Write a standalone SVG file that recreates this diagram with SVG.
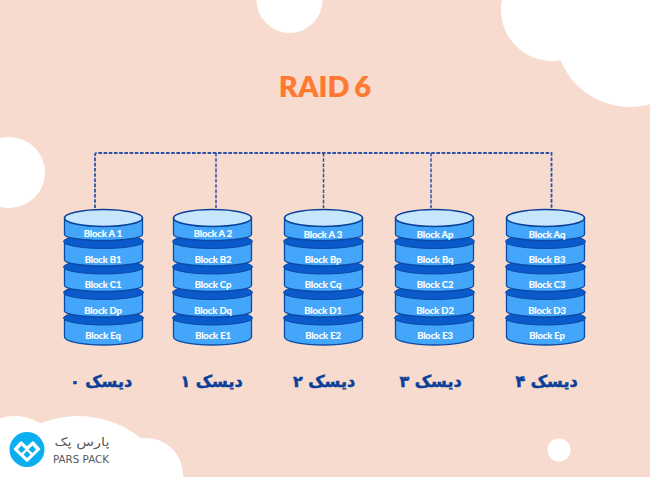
<svg xmlns="http://www.w3.org/2000/svg" width="650" height="477" viewBox="0 0 650 477">
<style>
.bg{fill:#f6dbce}.cloud{fill:#fff}
.conn{fill:none;stroke:#2a52a8;stroke-width:1.8;stroke-dasharray:3.6 1.6}
.seg{fill:#43a6fb;stroke:#0b4aa5;stroke-width:1.3}
.band{fill:#0a5acb;stroke:#0b4aa5;stroke-width:1}
.top{fill:#c6e7fb;stroke:#0b3f98;stroke-width:1.6}
.lbl{font:700 9.5px Lato,"Liberation Sans",sans-serif;fill:#fff;stroke:#fff;stroke-width:.15;text-anchor:middle;letter-spacing:-.15px}
.disk{font:700 16px "DejaVu Sans",sans-serif;fill:#0b3f98;stroke:#0b3f98;stroke-width:.5;text-anchor:middle}
.title{font:800 29px Lato,"Liberation Sans",sans-serif;fill:#ff7a30;text-anchor:middle;word-spacing:-2px}
</style>
<defs>
<path id="seg" d="M-39,0V16.500A39,6 0 0 0 39,16.500V0Z"/>
<path id="seg-last" d="M-39,0V17A39,8 0 0 0 39,17V0Z"/>
<g id="stack">
<use href="#seg-last" class="seg" y="102"/>
<ellipse class="band" cx="0" cy="100" rx="40" ry="7"/>
<use href="#seg" class="seg" y="76.500"/>
<ellipse class="band" cx="0" cy="74.500" rx="40" ry="7"/>
<use href="#seg" class="seg" y="51"/>
<ellipse class="band" cx="0" cy="49" rx="40" ry="7"/>
<use href="#seg" class="seg" y="25.500"/>
<ellipse class="band" cx="0" cy="23.500" rx="40" ry="7"/>
<use href="#seg" class="seg" y="0"/>
<ellipse class="top" cx="0" cy="0" rx="39" ry="8.500"/>
</g>
</defs>
<rect class="bg" width="650" height="477"/>
<g id="background">
<circle class="cloud" cx="289.500" cy="0" r="33"/>
<circle class="cloud" cx="9.500" cy="172.500" r="35.500"/>
<circle class="cloud" cx="559" cy="450" r="11.500"/>
<circle class="cloud" cx="552" cy="10" r="51"/>
<circle class="cloud" cx="630" cy="32" r="75"/>
<rect class="cloud" x="552" y="0" width="98" height="32"/>
<circle class="cloud" cx="15" cy="464" r="48"/>
<circle class="cloud" cx="78" cy="516" r="100"/>
<circle class="cloud" cx="146" cy="475" r="37"/>
</g>
<text class="title" x="325" y="97">RAID 6</text>
<g id="connectors">
<path class="conn" d="M95,208V155Q95,153 97,153H551.500V208"/>
<path class="conn" d="M216,153V208M323.500,153V208M431,153V208" style="stroke-width:1.500"/>
</g>
<g id="disk-0"><use href="#stack" x="103.500" y="218"/>
<text class="lbl" x="103" y="237">Block A 1</text><text class="lbl" x="103" y="263">Block B1</text><text class="lbl" x="103" y="288">Block C1</text><text class="lbl" x="103" y="314">Block Dp</text><text class="lbl" x="103" y="339">Block Eq</text>
<text class="disk" x="101" y="387" direction="rtl">دیسک ۰</text></g>
<g id="disk-1"><use href="#stack" x="212.500" y="218"/>
<text class="lbl" x="213" y="237">Block A 2</text><text class="lbl" x="213" y="263">Block B2</text><text class="lbl" x="213" y="288">Block Cp</text><text class="lbl" x="213" y="314">Block Dq</text><text class="lbl" x="213" y="339">Block E1</text>
<text class="disk" x="211.500" y="387" direction="rtl">دیسک ۱</text></g>
<g id="disk-2"><use href="#stack" x="323.500" y="218"/>
<text class="lbl" x="323" y="238">Block A 3</text><text class="lbl" x="323" y="263">Block Bp</text><text class="lbl" x="323" y="288">Block Cq</text><text class="lbl" x="323" y="314">Block D1</text><text class="lbl" x="323" y="339">Block E2</text>
<text class="disk" x="324" y="387" direction="rtl">دیسک ۲</text></g>
<g id="disk-3"><use href="#stack" x="434.500" y="218"/>
<text class="lbl" x="435" y="238">Block Ap</text><text class="lbl" x="435" y="263">Block Bq</text><text class="lbl" x="435" y="288">Block C2</text><text class="lbl" x="435" y="314">Block D2</text><text class="lbl" x="435" y="339">Block E3</text>
<text class="disk" x="430.500" y="387" direction="rtl">دیسک ۳</text></g>
<g id="disk-4"><use href="#stack" x="545.500" y="218"/>
<text class="lbl" x="547" y="238">Block Aq</text><text class="lbl" x="547" y="263">Block B3</text><text class="lbl" x="547" y="288">Block C3</text><text class="lbl" x="547" y="314">Block D3</text><text class="lbl" x="547" y="339">Block Ep</text>
<text class="disk" x="546.500" y="387" direction="rtl">دیسک ۴</text></g>
<g id="logo">
<circle cx="27" cy="449.500" r="17.500" fill="#0bafef"/>
<path d="M27,460.500L15,449L21,442.500L27,448L33,442.500L39,449Z" fill="#fff" stroke="#fff" stroke-width="2.500" stroke-linejoin="round"/>
<path d="M21.500,445.500L25.500,449.500L21.500,453L18,449.500ZM32.500,445.500L36,449.500L32.500,453L28.500,449.500ZM27,451L30.500,454.500L27,458L23.500,454.500Z" fill="#0bafef"/>
<text x="82" y="446" font-family="'DejaVu Sans',sans-serif" font-size="12" fill="#58595b" text-anchor="middle" direction="rtl" textLength="55" lengthAdjust="spacingAndGlyphs">پارس پک</text>
<text x="81" y="463" font-family="'DejaVu Sans',sans-serif" font-size="11" fill="#58595b" text-anchor="middle" textLength="56" lengthAdjust="spacingAndGlyphs" style="text-transform:uppercase">Pars Pack</text>
</g>
</svg>
